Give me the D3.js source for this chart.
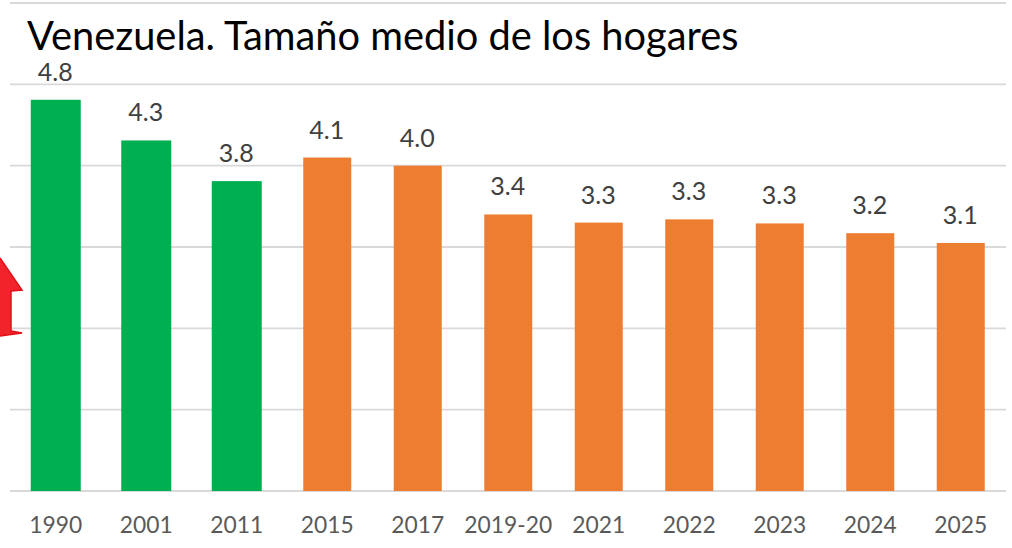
<!DOCTYPE html>
<html><head><meta charset="utf-8">
<script src="https://cdn.jsdelivr.net/npm/d3@7"></script>
<style>html,body{margin:0;padding:0;background:#fff}svg{display:block}text{font-family:Lato,"Open Sans",sans-serif}</style>
</head><body><svg id="c" width="1012" height="548"></svg>
<script>
const categories=["1990","2001","2011","2015","2017","2019-20","2021","2022","2023","2024","2025"];
const values=[4.81,4.31,3.81,4.1,4.0,3.4,3.3,3.34,3.29,3.17,3.05];
const labels=["4.8","4.3","3.8","4.1","4.0","3.4","3.3","3.3","3.3","3.2","3.1"];
const greenCount=3;
const gridTicks=[0,1,2,3,4,5,6];
const svg=d3.select("#c");
const x=d3.scaleBand().domain(categories).range([10.5,1006]).paddingInner(0.46).paddingOuter(0.23);
const y=d3.scaleLinear().domain([0,6]).range([491,3]);
svg.append("g").selectAll("line").data(gridTicks).join("line")
 .attr("x1",10).attr("x2",1006).attr("y1",d=>y(d)).attr("y2",d=>y(d))
 .attr("stroke","#d9d9d9").attr("stroke-width",1.8);
svg.append("g").selectAll("rect").data(categories).join("rect")
 .attr("x",(d,i)=>x(d)+x.bandwidth()/2-(i<greenCount?25:24))
 .attr("width",(d,i)=>i<greenCount?50:48)
 .attr("y",(d,i)=>y(values[i])).attr("height",(d,i)=>y(0)-y(values[i]))
 .attr("fill",(d,i)=>i<greenCount?"#00b050":"#ed7d31");
svg.append("g").selectAll("text").data(labels).join("text")
 .attr("x",(d,i)=>x(categories[i])+x.bandwidth()/2-0.5).attr("y",(d,i)=>y(values[i])-19)
 .attr("text-anchor","middle").attr("font-size",25).attr("fill","#404040").text(d=>d);
svg.append("g").selectAll("text").data(categories).join("text")
 .attr("x",d=>x(d)+x.bandwidth()/2).attr("y",533)
 .attr("text-anchor","middle").attr("font-size",22.8).attr("fill","#595959").text(d=>d);
svg.append("text").attr("x",27).attr("y",50).attr("font-size",39.8).attr("fill","#000").text("Venezuela. Tamaño medio de los hogares");
// decorative cropped red arrow at the left edge
svg.append("path").attr("d",d3.line()([[0,258],[22,290],[11,291],[11,331],[22,333],[0,336]])).attr("fill","#f0242a").attr("stroke","#e01018").attr("stroke-width",1.5);
</script></body></html>
